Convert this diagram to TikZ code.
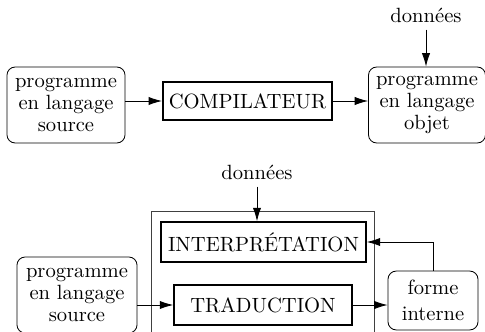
\documentclass[tikz,border=0pt]{standalone}
\usetikzlibrary{arrows.meta}
\tikzset{
  prog/.style={draw,rounded corners=4pt,align=center,inner sep=0pt,
    minimum width=57.3pt,minimum height=36.9pt,font=\fontsize{10}{10.8}\selectfont},
  etape/.style={draw,line width=0.8pt,inner sep=0pt,minimum height=19.4pt},
  fleche/.style={-{Latex[length=6.5pt,width=4pt]}}
}
\begin{document}
\begin{tikzpicture}[x=0.4854pt,y=-0.4854pt]
  \useasboundingbox (0,0) rectangle (485,332);
  % compilation
  \node[prog] (src) at (66,105) {programme\\en langage\\source};
  \node[etape,line width=1pt,minimum width=82pt,minimum height=18.9pt] (comp) at (247.5,101) {COMPILATEUR};
  \node[prog,minimum width=56.8pt] (obj) at (427,105) {programme\\en langage\\objet};
  \node (don) at (426,15) {donn\'ees};
  \draw[fleche] (src.east |- comp.west) -- (comp.west);
  \draw[fleche] (comp.east) -- (obj.west |- comp.east);
  \draw[fleche] (don.south) -- (don.south |- obj.north);
  % interpretation
  \node[draw,black!75,line width=0.5pt,inner sep=0pt,minimum width=107.8pt,minimum height=64.6pt] (interprete) at (263,278.5) {};
  \node[etape,minimum width=99.5pt] (interp) at (263.5,242) {INTERPR\'ETATION};
  \node[etape,minimum width=86.4pt] (trad) at (263,305) {TRADUCTION};
  \node[prog,minimum width=58.3pt] (src2) at (77,295) {programme\\en langage\\source};
  \node[prog,minimum width=43.7pt,minimum height=28.6pt,font=\fontsize{10}{12.5}\selectfont] (forme) at (433,300.5) {forme\\interne};
  \node (don2) at (257,172) {donn\'ees};
  \draw[fleche] (don2.south) -- (don2.south |- interp.north);
  \draw[fleche] (src2.east |- trad.west) -- (trad.west);
  \draw[fleche] (trad.east) -- (forme.west |- trad.east);
  \draw[fleche] (forme.north) |- (interp.east);
\end{tikzpicture}
\end{document}
